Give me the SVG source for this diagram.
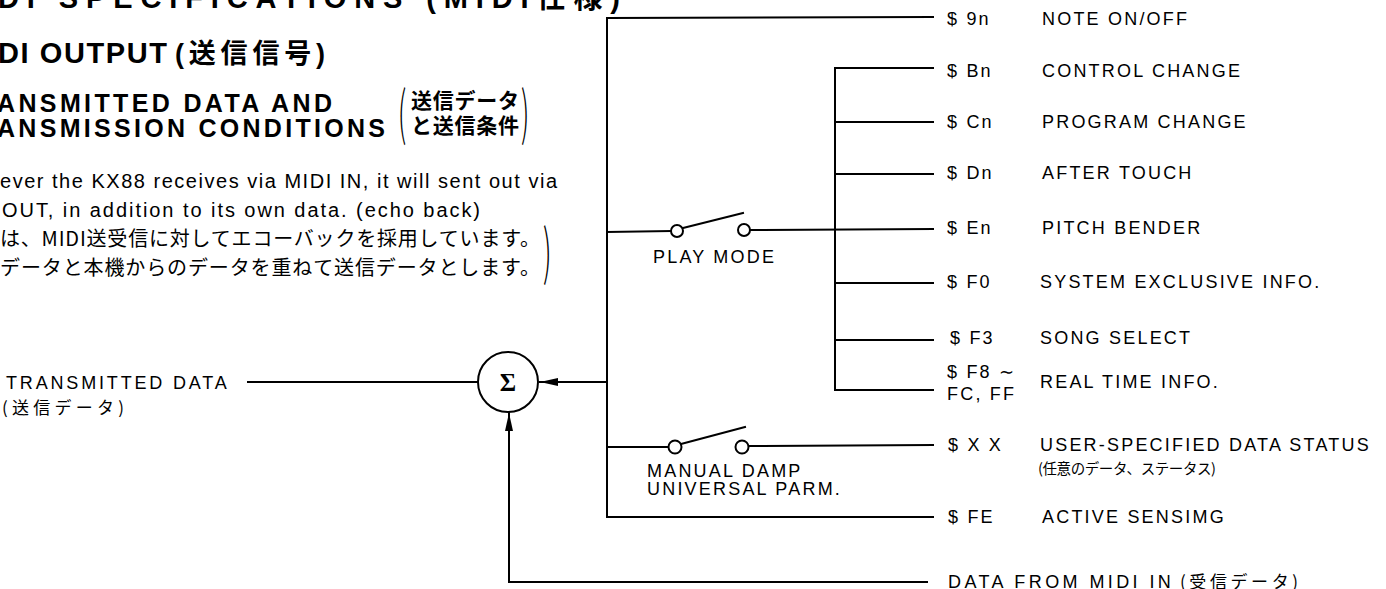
<svg xmlns="http://www.w3.org/2000/svg" width="1386" height="589" viewBox="0 0 1386 589">
<style>
.ln{stroke:#000;stroke-width:2;fill:none;stroke-linecap:square}
.lb{font-family:"Liberation Sans","Noto Sans CJK JP",sans-serif;font-size:18px;letter-spacing:2.2px;fill:#000}
.hd{font-family:"Liberation Sans","Noto Sans CJK JP",sans-serif;font-weight:bold;fill:#000}
.bd{font-family:"Liberation Sans",sans-serif;font-size:20px;fill:#000}
.jp{font-family:"Noto Sans CJK JP",sans-serif;fill:#000}
.sw{stroke:#000;stroke-width:2;fill:#fff}
</style>
<defs>
<marker id="ah" markerWidth="18" markerHeight="10" refX="18" refY="5" orient="auto" markerUnits="userSpaceOnUse">
<path d="M0,1 L18,5 L0,9 z" fill="#000"/>
</marker>
</defs>

<g id="heading">
<text class="hd" x="-2" y="8" font-size="29" textLength="622" lengthAdjust="spacing">DI SPECIFICATIONS (MIDI仕様)</text>
<text class="hd" x="-2" y="63" font-size="29" textLength="169" lengthAdjust="spacing">DI OUTPUT</text>
<text class="hd" x="175" y="63" font-size="27" textLength="150" lengthAdjust="spacing">(送信信号)</text>
<text class="hd" x="-3" y="112" font-size="25" textLength="335" lengthAdjust="spacing">ANSMITTED DATA AND</text>
<text class="hd" x="-3" y="137" font-size="25" textLength="388" lengthAdjust="spacing">ANSMISSION CONDITIONS</text>
<text class="jp" transform="translate(398,134) scale(0.45,1)" font-size="58" font-weight="300">(</text>
<text class="jp" x="411" y="108" font-size="21" font-weight="bold" textLength="108" lengthAdjust="spacing">送信データ</text>
<text class="jp" x="411" y="133" font-size="21" font-weight="bold" textLength="108" lengthAdjust="spacing">と送信条件</text>
<text class="jp" transform="translate(521,134) scale(0.45,1)" font-size="58" font-weight="300">)</text>
</g>

<g id="body-text">
<text class="bd" x="0" y="188" textLength="557" lengthAdjust="spacing">ever the KX88 receives via MIDI IN, it will sent out via</text>
<text class="bd" x="2" y="217" textLength="478" lengthAdjust="spacing">OUT, in addition to its own data. (echo back)</text>
<text class="jp" x="0" y="246" font-size="20" textLength="540" lengthAdjust="spacing">は、MIDI送受信に対してエコーバックを採用しています。</text>
<text class="jp" x="0" y="275" font-size="20" textLength="540" lengthAdjust="spacing">データと本機からのデータを重ねて送信データとします。</text>
<text class="jp" transform="translate(543,274) scale(0.45,1)" font-size="60" font-weight="300">)</text>
</g>

<g id="connectors">
<polyline class="ln" points="933,17 607,18 607,517 933,517"/>
<polyline class="ln" points="933,68 835,68 835,390 933,390"/>
<line class="ln" x1="835" y1="122" x2="933" y2="122"/>
<line class="ln" x1="835" y1="174" x2="933" y2="174"/>
<line class="ln" x1="835" y1="283" x2="933" y2="283"/>
<line class="ln" x1="835" y1="340" x2="933" y2="340"/>
<line class="ln" x1="607" y1="232" x2="671" y2="231"/>
<line class="ln" x1="750" y1="230" x2="933" y2="229"/>
<line class="ln" x1="607" y1="447" x2="669" y2="447"/>
<line class="ln" x1="749" y1="446" x2="933" y2="445"/>
<line class="ln" x1="607" y1="382" x2="540" y2="382" marker-end="url(#ah)"/>
<line class="ln" x1="248" y1="382" x2="478" y2="382"/>
<polyline class="ln" points="927,582 509,582 509,413" marker-end="url(#ah)"/>
</g>

<g id="sigma">
<circle cx="508" cy="382" r="30" fill="#fff" stroke="#000" stroke-width="2"/>
<text x="508" y="391" text-anchor="middle" font-family="Liberation Serif,serif" font-weight="bold" font-size="25">Σ</text>
</g>

<g id="switch-play">
<circle class="sw" cx="677" cy="231" r="6"/>
<line class="ln" x1="683" y1="228" x2="743" y2="213"/>
<circle class="sw" cx="744" cy="230" r="6"/>
<text class="lb" x="653" y="263">PLAY MODE</text>
</g>

<g id="switch-manual">
<circle class="sw" cx="675" cy="447" r="6.5"/>
<line class="ln" x1="681" y1="444" x2="745" y2="427"/>
<circle class="sw" cx="742" cy="447" r="6.5"/>
<text class="lb" x="647" y="477">MANUAL DAMP</text>
<text class="lb" x="647" y="495">UNIVERSAL PARM.</text>
</g>

<g id="transmitted">
<text class="lb" x="6" y="389" textLength="223" lengthAdjust="spacing">TRANSMITTED DATA</text>
<text class="jp" x="2" y="414" font-size="17" textLength="122" lengthAdjust="spacing">(送信データ)</text>
</g>

<g id="n-9n"><text class="lb" x="947" y="25">$ 9n</text><text class="lb" x="1042" y="25">NOTE ON/OFF</text></g>
<g id="n-bn"><text class="lb" x="947" y="77">$ Bn</text><text class="lb" x="1042" y="77">CONTROL CHANGE</text></g>
<g id="n-cn"><text class="lb" x="947" y="128">$ Cn</text><text class="lb" x="1042" y="128">PROGRAM CHANGE</text></g>
<g id="n-dn"><text class="lb" x="947" y="179">$ Dn</text><text class="lb" x="1042" y="179">AFTER TOUCH</text></g>
<g id="n-en"><text class="lb" x="947" y="234">$ En</text><text class="lb" x="1042" y="234">PITCH BENDER</text></g>
<g id="n-f0"><text class="lb" x="947" y="288">$ F0</text><text class="lb" x="1040" y="288">SYSTEM EXCLUSIVE INFO.</text></g>
<g id="n-f3"><text class="lb" x="950" y="344">$ F3</text><text class="lb" x="1040" y="344">SONG SELECT</text></g>
<g id="n-f8"><text class="lb" x="947" y="378">$ F8 ∼</text><text class="lb" x="947" y="400">FC, FF</text><text class="lb" x="1040" y="388">REAL TIME INFO.</text></g>
<g id="n-xx"><text class="lb" x="948" y="451">$ X X</text><text class="lb" x="1040" y="451">USER-SPECIFIED DATA STATUS</text>
<text class="jp" x="1038" y="474" font-size="14.5" textLength="178" lengthAdjust="spacing">(任意のデータ、ステータス)</text></g>
<g id="n-fe"><text class="lb" x="948" y="523">$ FE</text><text class="lb" x="1042" y="523">ACTIVE SENSIMG</text></g>
<g id="n-midiin"><text class="lb" x="948" y="588" textLength="225" lengthAdjust="spacing">DATA FROM MIDI IN</text>
<text class="jp" x="1180" y="588" font-size="17" textLength="118" lengthAdjust="spacing">(受信データ)</text></g>
</svg>
